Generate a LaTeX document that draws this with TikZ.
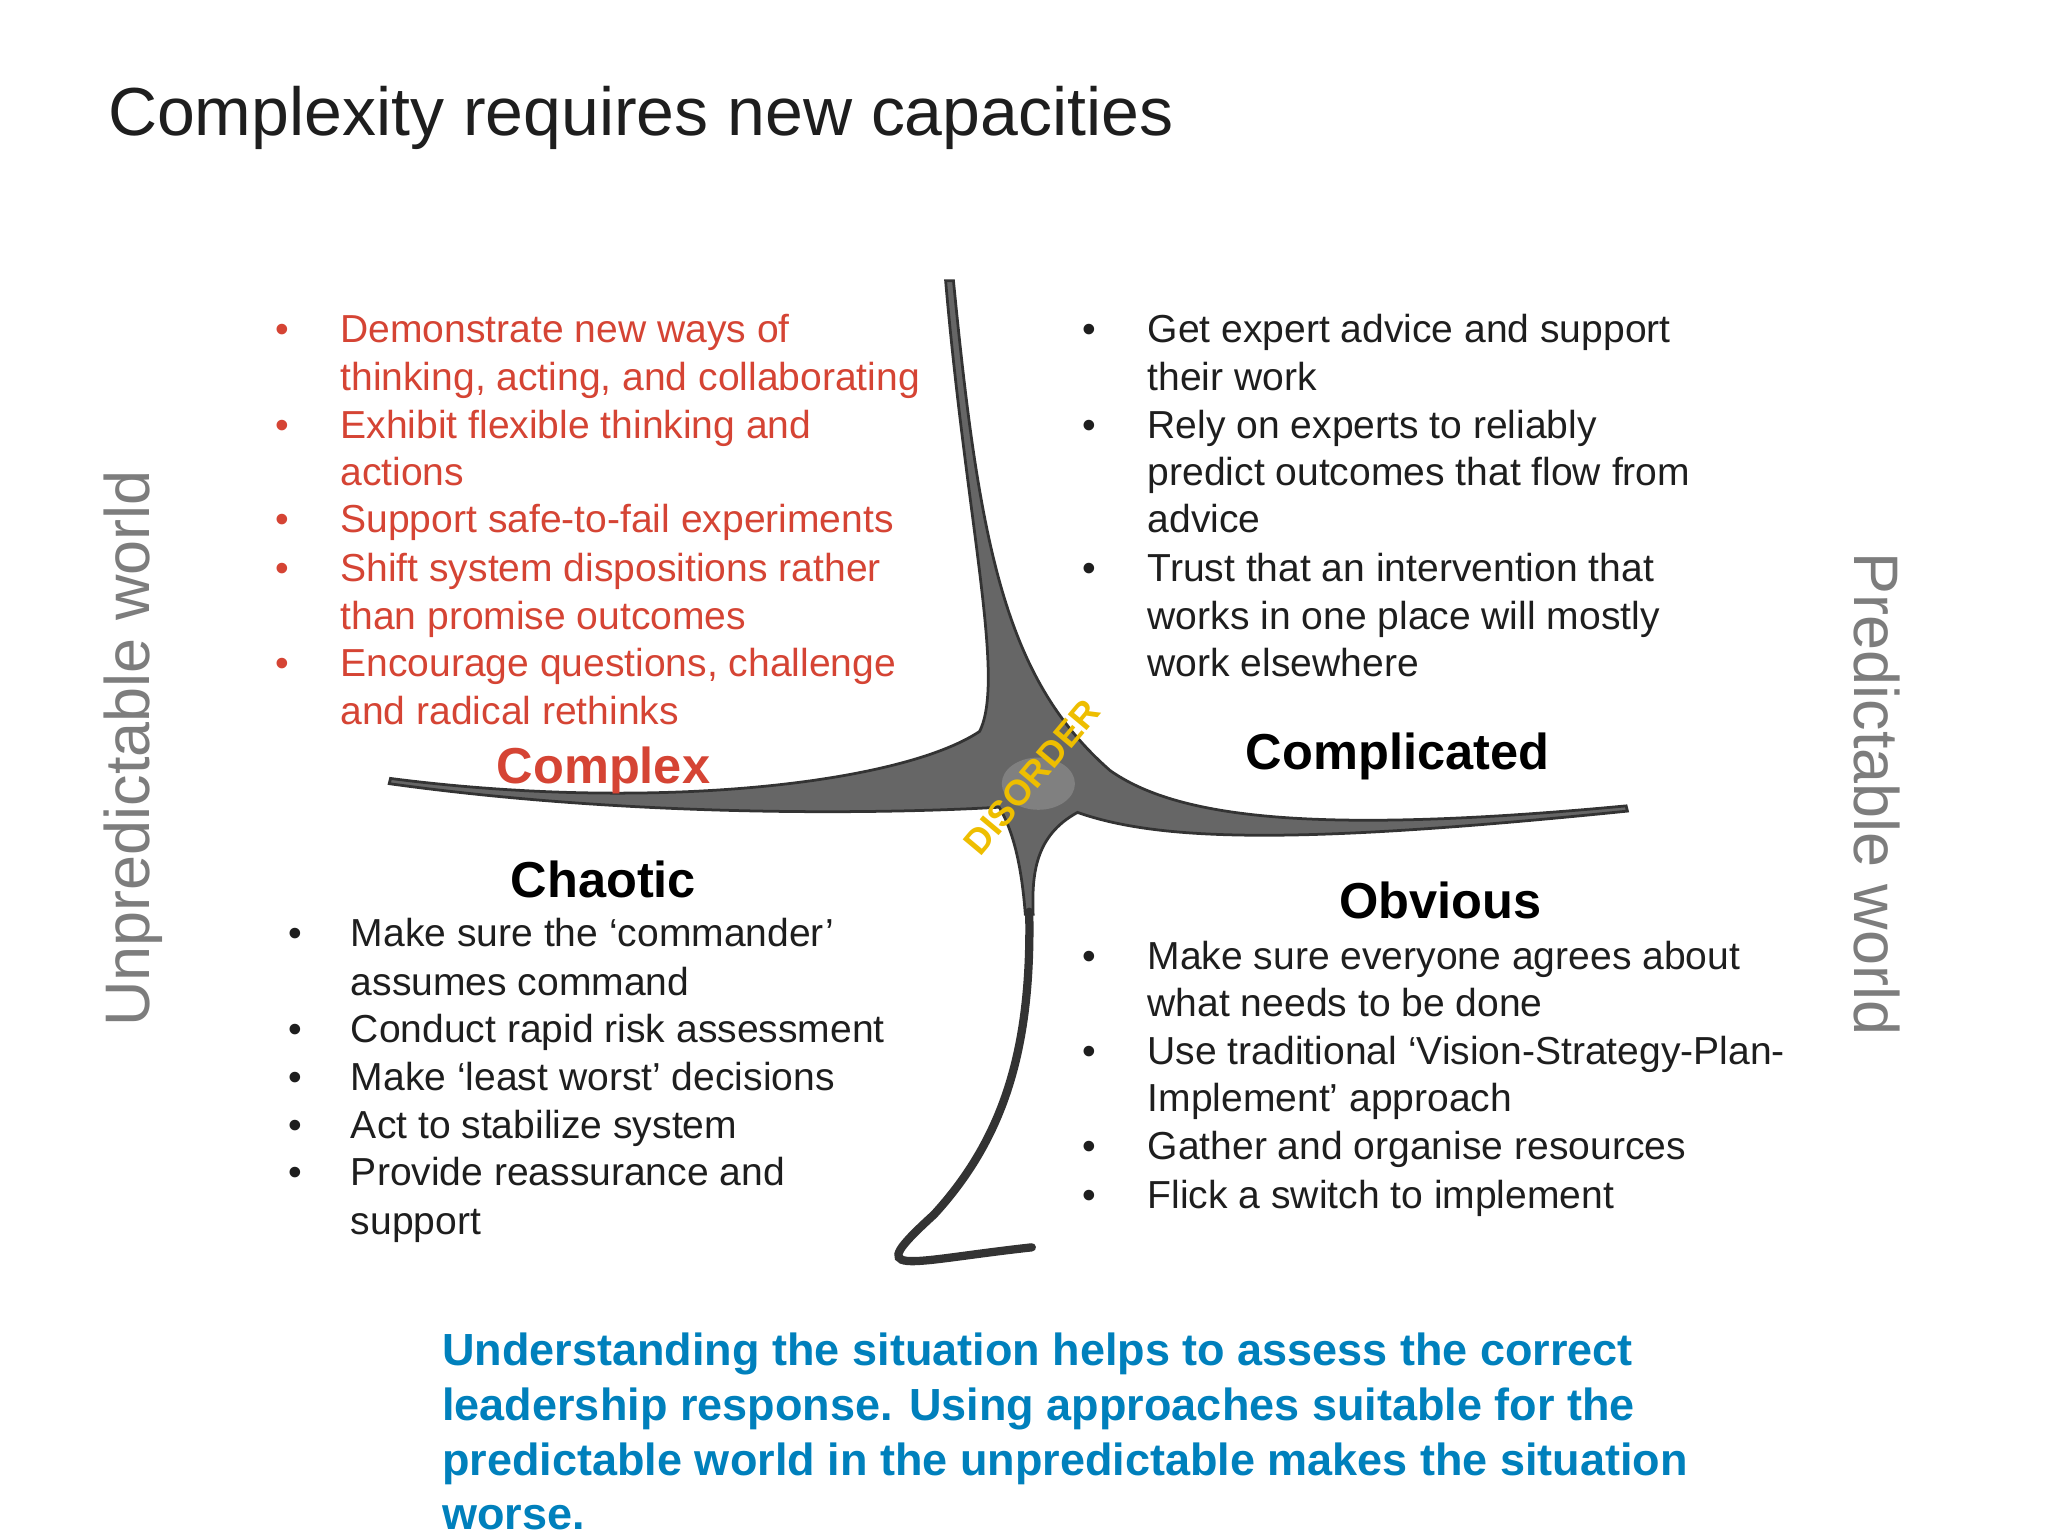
\documentclass[tikz,border=0pt]{standalone}
\usepackage{fontspec}
\setmainfont{Liberation Sans}
\definecolor{redt}{RGB}{213,68,52}
\definecolor{bluet}{RGB}{0,128,188}
\definecolor{sidegray}{RGB}{125,125,125}
\definecolor{txt}{RGB}{30,30,30}
\definecolor{disy}{RGB}{238,190,0}
\newcommand{\tl}[5]{\node[line,text=#5,anchor=base west] (#1) at (#2,#3) {#4};}
\newcommand{\bl}[4]{\node[line,text=#4,anchor=base west] (#1) at (#2,#3) {\textbullet};}
\begin{document}
\begin{tikzpicture}[x=0.01cm,y=-0.01cm,
  line/.style={inner sep=0pt,font=\fontsize{8.5pt}{10pt}\selectfont},
  head/.style={inner sep=0pt,font=\fontsize{11pt}{12pt}\selectfont\bfseries,anchor=base}]
\useasboundingbox (0,0) rectangle (1568,1176);
\fill[white] (0,0) rectangle (1568,1176);
\node[inner sep=0pt,anchor=base west,text=txt,font=\fontsize{14.8pt}{16pt}\selectfont] (title) at (82,104) {Complexity requires new capacities};
% shape
\fill[black!60,draw=black!80,line width=0.6pt]
 (724,215) -- (730,215) .. controls (750,420) and (770,520) .. (850,590)
 .. controls (900,625) and (1000,640) .. (1245,617) -- (1246,621)
 .. controls (1000,646) and (890,645) .. (825,622)
 .. controls (792,640) and (790,670) .. (791,700) -- (785,700)
 .. controls (782,660) and (775,635) .. (765,618)
 .. controls (700,622) and (500,628) .. (298,600) -- (299,596)
 .. controls (500,622) and (690,600) .. (750,560)
 .. controls (770,520) and (740,400) .. (724,215) -- cycle;
\fill[black!50] (795,600) ellipse (28 and 20);
\draw[black!80,line width=1.8pt,line cap=round] (788,698) .. controls (790,800) and (770,870) .. (715,930) .. controls (660,980) and (690,966) .. (790,955);
\node[inner sep=0pt,rotate=50,text=disy,font=\fontsize{7.8pt}{8pt}\selectfont\bfseries] (dis) at (790,595) {DISORDER};
% red
\bl{rb1}{210}{262}{redt}\tl{r1}{260}{262}{Demonstrate new ways of}{redt}
\tl{r2}{260}{299}{thinking, acting, and collaborating}{redt}
\bl{rb2}{210}{336}{redt}\tl{r3}{260}{336}{Exhibit flexible thinking and}{redt}
\tl{r4}{260}{372}{actions}{redt}
\bl{rb3}{210}{408}{redt}\tl{r5}{260}{408}{Support safe-to-fail experiments}{redt}
\bl{rb4}{210}{445}{redt}\tl{r6}{260}{445}{Shift system dispositions rather}{redt}
\tl{r7}{260}{482}{than promise outcomes}{redt}
\bl{rb5}{210}{518}{redt}\tl{r8}{260}{518}{Encourage questions, challenge}{redt}
\tl{r9}{260}{555}{and radical rethinks}{redt}
\node[head,text=redt] (hcx) at (462,600) {Complex};
% complicated
\bl{cb1}{828}{262}{txt}\tl{c1}{878}{262}{Get expert advice and support}{txt}
\tl{c2}{878}{299}{their work}{txt}
\bl{cb2}{828}{336}{txt}\tl{c3}{878}{336}{Rely on experts to reliably}{txt}
\tl{c4}{878}{372}{predict outcomes that flow from}{txt}
\tl{c5}{878}{408}{advice}{txt}
\bl{cb3}{828}{445}{txt}\tl{c6}{878}{445}{Trust that an intervention that}{txt}
\tl{c7}{878}{482}{works in one place will mostly}{txt}
\tl{c8}{878}{518}{work elsewhere}{txt}
\node[head,text=black] (hcd) at (1070,589) {Complicated};
% chaotic
\node[head,text=black] (hch) at (462,687) {Chaotic};
\bl{hb1}{220}{725}{txt}\tl{h1}{268}{725}{Make sure the ‘commander’}{txt}
\tl{h2}{268}{762}{assumes command}{txt}
\bl{hb2}{220}{798}{txt}\tl{h3}{268}{798}{Conduct rapid risk assessment}{txt}
\bl{hb3}{220}{835}{txt}\tl{h4}{268}{835}{Make ‘least worst’ decisions}{txt}
\bl{hb4}{220}{872}{txt}\tl{h5}{268}{872}{Act to stabilize system}{txt}
\bl{hb5}{220}{908}{txt}\tl{h6}{268}{908}{Provide reassurance and}{txt}
\tl{h7}{268}{945}{support}{txt}
% obvious
\node[head,text=black] (hob) at (1103,703) {Obvious};
\bl{ob1}{828}{742}{txt}\tl{o1}{878}{742}{Make sure everyone agrees about}{txt}
\tl{o2}{878}{778}{what needs to be done}{txt}
\bl{ob2}{828}{815}{txt}\tl{o3}{878}{815}{Use traditional ‘Vision-Strategy-Plan-}{txt}
\tl{o4}{878}{851}{Implement’ approach}{txt}
\bl{ob3}{828}{888}{txt}\tl{o5}{878}{888}{Gather and organise resources}{txt}
\bl{ob4}{828}{925}{txt}\tl{o6}{878}{925}{Flick a switch to implement}{txt}
% sides
\node[inner sep=0pt,rotate=90,text=sidegray,font=\fontsize{13.7pt}{14pt}\selectfont] (unp) at (102,573) {Unpredictable world};
\node[inner sep=0pt,rotate=-90,text=sidegray,font=\fontsize{13.7pt}{14pt}\selectfont] (pre) at (1437,608) {Predictable world};
% bottom
\node[inner sep=0pt,anchor=north west,align=left,text=bluet,font=\fontsize{9.8pt}{11.9pt}\selectfont\bfseries] (btm) at (338,1020)
{Understanding the situation helps to assess the correct\\leadership response. Using approaches suitable for the\\predictable world in the unpredictable makes the situation\\worse.};
\end{tikzpicture}
\end{document}
